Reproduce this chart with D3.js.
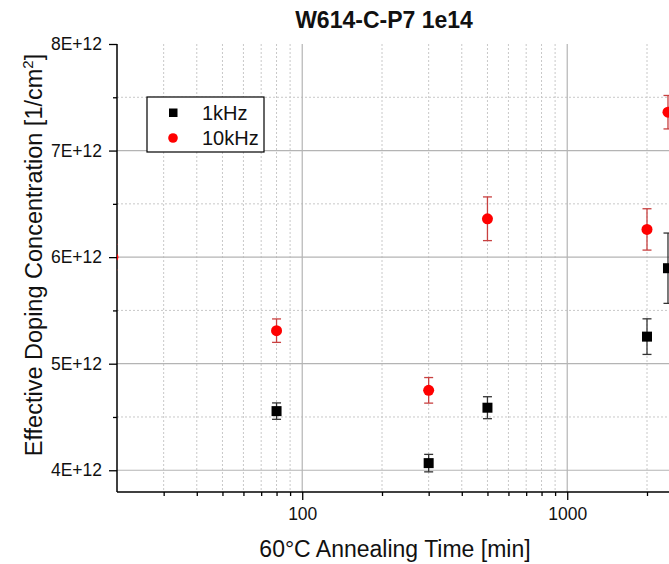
<!DOCTYPE html>
<html>
<head>
<meta charset="utf-8">
<script src="https://cdn.jsdelivr.net/npm/d3@7"></script>
<style>
  body { margin: 0; background: #fff; }
  svg { display: block; font-family: "Liberation Sans", Arial, sans-serif; }
</style>
</head>
<body>
<div id="chart"></div>
<script>
// annealing times [min] and effective doping concentration [1e12 / cm^2]
const times1k = [80, 300, 500, 2000, 2400];
const vals1k = [4.555, 4.067, 4.587, 5.254, 5.896];
const errs1k = [0.077, 0.082, 0.103, 0.167, 0.33];

const times10k = [19.3, 80, 300, 500, 2000, 2400];
const vals10k = [6.0, 5.31, 4.75, 6.36, 6.26, 7.36];
const errs10k = [0.12, 0.11, 0.12, 0.205, 0.194, 0.157];

const yTicks = [4, 5, 6, 7, 8];
const yMinor = [4.5, 5.5, 6.5, 7.5];
const xMajor = [100, 1000];
const xMinor = [30, 40, 50, 60, 70, 80, 90, 200, 300, 400, 500, 600, 700, 800, 900, 2000, 3000];

const W = 669, H = 564;
const m = { t: 44, l: 117, b: 492 };

const svg = d3.select("#chart").append("svg").attr("width", W).attr("height", H);

const x = d3.scaleLog().domain([20, 10000]).range([m.l, m.l + 265 * Math.log10(500)]);
const y = d3.scaleLinear().domain([3.796, 8]).range([m.b, m.t]);

svg.append("defs").append("clipPath").attr("id", "plot")
  .append("rect").attr("x", m.l).attr("y", m.t - 10).attr("width", 800).attr("height", m.b - m.t + 10);

const grid = svg.append("g");
// minor gridlines
grid.selectAll(".xm").data(xMinor).join("line")
  .attr("x1", d => x(d)).attr("x2", d => x(d)).attr("y1", m.t).attr("y2", m.b)
  .attr("stroke", "#c8c8c8").attr("stroke-dasharray", "2,2");
grid.selectAll(".ym").data(yMinor).join("line")
  .attr("x1", m.l).attr("x2", W).attr("y1", d => y(d)).attr("y2", d => y(d))
  .attr("stroke", "#c8c8c8").attr("stroke-dasharray", "2,2");
// major gridlines
grid.selectAll(".xM").data(xMajor).join("line")
  .attr("x1", d => x(d)).attr("x2", d => x(d)).attr("y1", m.t).attr("y2", m.b)
  .attr("stroke", "#b4b4b4").attr("stroke-width", 1.2);
grid.selectAll(".yM").data(yTicks.slice(0, -1)).join("line")
  .attr("x1", m.l).attr("x2", W).attr("y1", d => y(d)).attr("y2", d => y(d))
  .attr("stroke", "#b4b4b4").attr("stroke-width", 1.2);

// axes
const yAx = svg.append("g").attr("transform", `translate(${m.l},0)`)
  .call(d3.axisLeft(y).tickValues(yTicks).tickSize(8).tickPadding(7).tickFormat(d => d + "E+12"));
svg.append("g").attr("transform", `translate(${m.l},0)`)
  .call(d3.axisLeft(y).tickValues(yMinor).tickSize(4).tickFormat(""))
  .call(g => g.select(".domain").remove());
yAx.select(".domain").attr("d", `M0,${m.t}V${m.b}`).attr("stroke-width", 1.5);

const xAx = svg.append("g").attr("transform", `translate(0,${m.b})`)
  .call(d3.axisBottom(x).tickValues(xMajor).tickSize(8).tickPadding(8).tickFormat(d3.format("d")));
svg.append("g").attr("transform", `translate(0,${m.b})`)
  .call(d3.axisBottom(x).tickValues(xMinor).tickSize(4).tickFormat(""))
  .call(g => g.select(".domain").remove());
xAx.select(".domain").attr("d", `M${m.l},0H${W + 10}`).attr("stroke-width", 1.5);

svg.selectAll(".tick line").attr("stroke-width", 1.3);
svg.selectAll(".tick text").attr("font-size", 17.5).attr("fill", "#111")
  .attr("font-family", "Liberation Sans, Arial, sans-serif");

// series
const plot = svg.append("g").attr("clip-path", "url(#plot)");

function errBars(times, vals, errs, color, w) {
  const rows = times.map((t, i) => ({ t, v: vals[i], e: errs[i] }));
  const g = plot.append("g").attr("stroke", color).attr("stroke-width", w);
  g.selectAll(".v").data(rows).join("line")
    .attr("x1", d => x(d.t)).attr("x2", d => x(d.t))
    .attr("y1", d => y(d.v + d.e)).attr("y2", d => y(d.v - d.e));
  g.selectAll(".c1").data(rows).join("line")
    .attr("x1", d => x(d.t) - 4.5).attr("x2", d => x(d.t) + 4.5)
    .attr("y1", d => y(d.v + d.e)).attr("y2", d => y(d.v + d.e));
  g.selectAll(".c2").data(rows).join("line")
    .attr("x1", d => x(d.t) - 4.5).attr("x2", d => x(d.t) + 4.5)
    .attr("y1", d => y(d.v - d.e)).attr("y2", d => y(d.v - d.e));
  return rows;
}

const r1 = errBars(times1k, vals1k, errs1k, "#333", 1.3);
const r10 = errBars(times10k, vals10k, errs10k, "#c84040", 1.3);

plot.append("g").selectAll("rect").data(r1).join("rect")
  .attr("x", d => x(d.t) - 5).attr("y", d => y(d.v) - 5)
  .attr("width", 10).attr("height", 10).attr("fill", "#000");
plot.append("g").selectAll("circle").data(r10).join("circle")
  .attr("cx", d => x(d.t)).attr("cy", d => y(d.v)).attr("r", 5.5).attr("fill", "#ff0000");

// legend
const lg = svg.append("g");
lg.append("rect").attr("x", 147).attr("y", 97).attr("width", 117).attr("height", 55)
  .attr("fill", "#fff").attr("stroke", "#000").attr("stroke-width", 1.2);
lg.append("rect").attr("x", 169).attr("y", 108.5).attr("width", 8.5).attr("height", 8.5).attr("fill", "#000");
lg.append("circle").attr("cx", 173).attr("cy", 138).attr("r", 4.8).attr("fill", "#ff0000");
lg.append("text").attr("x", 202).attr("y", 120).attr("font-size", 20).attr("fill", "#111").text("1kHz");
lg.append("text").attr("x", 202).attr("y", 145).attr("font-size", 20).attr("fill", "#111").text("10kHz");

// titles
svg.append("text").attr("x", 384).attr("y", 28).attr("text-anchor", "middle")
  .attr("font-size", 23).attr("font-weight", "bold").attr("fill", "#111").text("W614-C-P7 1e14");
svg.append("text").attr("x", 395).attr("y", 557).attr("text-anchor", "middle")
  .attr("font-size", 23).attr("fill", "#111").text("60°C Annealing Time [min]");
const yl = svg.append("text").attr("transform", "translate(42,255) rotate(-90)")
  .attr("text-anchor", "middle").attr("font-size", 23.5).attr("fill", "#111");
yl.append("tspan").text("Effective Doping Concentration [1/cm");
yl.append("tspan").attr("dy", -9).attr("font-size", 15).text("2");
yl.append("tspan").attr("dy", 9).text("]");
</script>
</body>
</html>
